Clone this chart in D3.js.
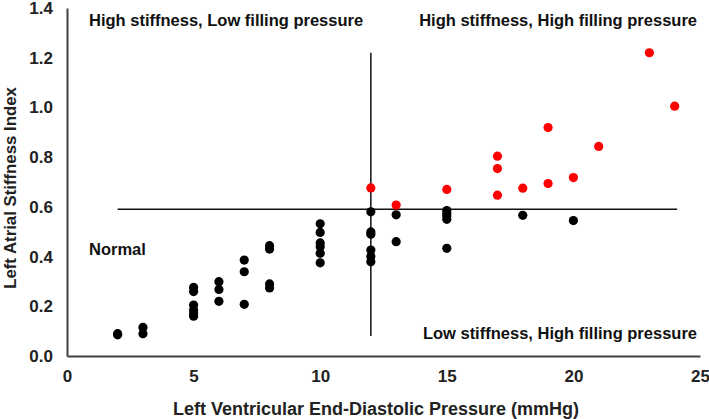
<!DOCTYPE html>
<html><head><meta charset="utf-8">
<script src="https://cdn.jsdelivr.net/npm/d3@7"></script>
<style>body{margin:0;background:#fff}svg{display:block;font-family:"Liberation Sans",Arial,sans-serif;font-weight:bold}</style>
</head><body><svg id="c" width="709" height="419"></svg>
<script>
// LVEDP (mmHg) and LA stiffness index — normal/low-stiffness group (black)
const blackX = [2,2,3,3,5,5,5,5,5,5,6,6,6,7,7,7,8,8,8,8,10,10,10,10,10,10,12,12,12,12,12,12,13,13,15,15,15,15,15,18,20];
const blackY = [0.085,0.09,0.09,0.115,0.276,0.259,0.205,0.185,0.17,0.16,0.299,0.268,0.22,0.386,0.339,0.208,0.444,0.43,0.29,0.274,0.532,0.497,0.455,0.44,0.413,0.375,0.58,0.499,0.49,0.426,0.40,0.379,0.568,0.46,0.585,0.574,0.563,0.55,0.433,0.566,0.545];
// high-stiffness group (red)
const redX = [12,13,15,17,17,17,18,19,19,20,21,23,24];
const redY = [0.676,0.607,0.670,0.804,0.754,0.647,0.675,0.919,0.694,0.718,0.843,1.22,1.005];
const xTicks = [0,5,10,15,20,25];
const yTicks = [0,0.2,0.4,0.6,0.8,1.0,1.2,1.4];
const cutoffY = 0.59, cutoffX = 12;
const quadLabels = ["High stiffness, Low filling pressure","High stiffness, High filling pressure","Normal","Low stiffness, High filling pressure"];

const svg = d3.select("#c");
const x = d3.scaleLinear().domain([0,25]).range([67,700]);
const y = d3.scaleLinear().domain([0,1.4]).range([356,8]);

// axes
const xa = svg.append("g").attr("transform","translate(0,356)")
  .call(d3.axisBottom(x).tickValues(xTicks).tickSize(0).tickPadding(14).tickFormat(d3.format("d")));
const ya = svg.append("g").attr("transform","translate(67,0)")
  .call(d3.axisLeft(y).tickValues(yTicks).tickSize(0).tickPadding(14).tickFormat(d3.format(".1f")));
[xa,ya].forEach(a=>{
  a.select(".domain").attr("stroke","#404040").attr("stroke-width",2);
  a.selectAll("text").attr("font-size",17).attr("font-weight","bold").attr("fill","#222").attr("font-family","Liberation Sans, Arial, sans-serif");
});

// cutoff lines
svg.append("line").attr("x1",x(2)).attr("x2",x(24.1)).attr("y1",y(cutoffY)).attr("y2",y(cutoffY)).attr("stroke","#111").attr("stroke-width",1.5);
svg.append("line").attr("x1",x(cutoffX)).attr("x2",x(cutoffX)).attr("y1",y(1.22)).attr("y2",y(0.08)).attr("stroke","#111").attr("stroke-width",1.5);

// points
svg.append("g").selectAll("circle").data(blackX.map((d,i)=>[d,blackY[i]])).join("circle")
  .attr("cx",d=>x(d[0])).attr("cy",d=>y(d[1])).attr("r",4.6).attr("fill","#000");
svg.append("g").selectAll("circle").data(redX.map((d,i)=>[d,redY[i]])).join("circle")
  .attr("cx",d=>x(d[0])).attr("cy",d=>y(d[1])).attr("r",4.6).attr("fill","#ff0000");

// quadrant labels
const ql = [[89,26,"start"],[697,26,"end"],[89,255,"start"],[697,339,"end"]];
ql.forEach((p,i)=>svg.append("text").attr("x",p[0]).attr("y",p[1]).attr("text-anchor",p[2])
  .attr("font-size",16.5).attr("fill","#111").text(quadLabels[i]));

// axis titles
svg.append("text").attr("x",376).attr("y",415).attr("text-anchor","middle").attr("font-size",18).attr("fill","#222")
  .text("Left Ventricular End-Diastolic Pressure (mmHg)");
svg.append("text").attr("transform","translate(16,188) rotate(-90)").attr("text-anchor","middle").attr("font-size",16.8).attr("fill","#222")
  .text("Left Atrial Stiffness Index");
</script></body></html>
